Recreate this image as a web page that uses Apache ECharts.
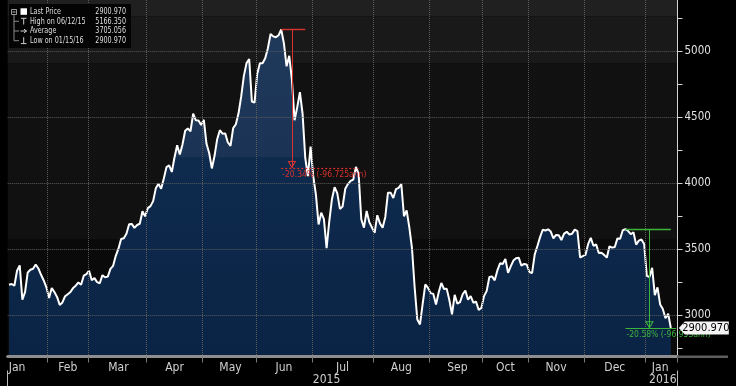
<!DOCTYPE html>
<html><head><meta charset="utf-8">
<script src="https://cdn.jsdelivr.net/npm/echarts@6/dist/echarts.min.js"></script>
<style>html,body{margin:0;padding:0;background:#000}#c{width:736px;height:386px}</style>
</head><body><div id="c"></div>
<script>
// ---------- data ----------
const monthNames = ['Jan','Feb','Mar','Apr','May','Jun','Jul','Aug','Sep','Oct','Nov','Dec','Jan'];
const monthYears = [2015,2015,2015,2015,2015,2015,2015,2015,2015,2015,2015,2015,2016];
const jan2015 = [3229,3235,3222,3336,3376,3116,3173,3323,3343,3351,3383,3353,3305,3262,3210];
const feb2015 = [3128,3204,3174,3137,3076,3095,3142,3158,3174,3204,3222,3247,3229,3298,3310];
const mar2015 = [3336,3263,3280,3249,3241,3302,3286,3291,3350,3373,3449,3503,3577,3582,3617,3688,3691,3661,3683,3692,3787,3748];
const apr2015 = [3811,3826,3864,3961,3995,3958,4035,4122,4135,4085,4195,4288,4218,4294,4398,4415,4394,4528,4477,4476,4442];
const may2015 = [4481,4299,4229,4112,4206,4334,4402,4376,4378,4309,4284,4418,4447,4530,4658,4814,4911,4942,4620,4612];
const jun2015 = [4829,4910,4910,4948,5024,5132,5114,5107,5122,5166.35,5062,4887,4967,4786,4478,4577,4691,4528,4193,4054,4277];
const jul2015 = [4054,3913,3687,3776,3728,3507,3710,3878,3970,3925,3805,3823,3958,3993,4017,4027,4124,4071,3726,3663,3789,3705,3664];
const aug2015 = [3623,3757,3695,3662,3744,3928,3928,3887,3955,3965,3994,3749,3794,3665,3508,3210,2965,2928,3084,3233,3206];
const sep2015 = [3166,3160,3080,3171,3243,3197,3200,3114,3005,3153,3086,3098,3157,3186,3116,3143,3093,3101,3039,3053];
const oct2015 = [3143,3183,3288,3293,3263,3338,3392,3387,3425,3320,3369,3413,3430,3435,3375,3387,3383];
const nov2015 = [3326,3317,3460,3523,3591,3647,3641,3650,3633,3581,3607,3605,3569,3618,3631,3611,3617,3648,3636,3436,3446];
const dec2015 = [3456,3537,3585,3525,3536,3471,3472,3456,3435,3521,3511,3516,3581,3579,3643,3651,3637,3613,3628,3534,3564,3573,3539];
const jan2016 = [3297,3288,3358,3150,3210,3080,3045,2975,3010,2900.97];
const monthValues = [jan2015,feb2015,mar2015,apr2015,may2015,jun2015,jul2015,aug2015,sep2015,oct2015,nov2015,dec2015,jan2016];
const yearLabels = ['2015','2016'];
const yLabelValues = [3000,3500,4000,4500,5000];
const yTickValues = [2750,3000,3250,3500,3750,4000,4250,4500,4750,5000,5250];
const legendRows = [['Last Price','2900.970'],['High on 06/12/15','5166.350'],['Average','3705.056'],['Low on 01/15/16','2900.970']];
const lastPriceText = '2900.970';
const redPct = -20.34, greenPct = -20.58;
const redText = '-20.34% (-96.725ann)';
const greenText = '-20.58% (-96.953ann)';

// ---------- build ----------
const F = "'Liberation Sans Narrow','DejaVu Sans Condensed','Arial Narrow',sans-serif";
const cats = [], values = [], monthStarts = [], labelMap = {}, yearMap = {};
monthValues.forEach((arr, m) => {
  const s = cats.length; monthStarts.push(s);
  arr.forEach((v, d) => { cats.push(monthYears[m] + '-' + monthNames[m] + '-' + (d + 1)); values.push(v); });
  const li = m === 0 ? s + 3 : s + Math.round((arr.length - 1) / 2);
  labelMap[li] = monthNames[m];
});
cats.push('pad-1', 'pad-2');
const tickSet = new Set(monthStarts.slice(1));
const y2016 = monthStarts[12];
yearMap[Math.round((y2016 - 1) / 2)] = yearLabels[0];
yearMap[Math.round((y2016 + cats.length - 1) / 2)] = yearLabels[1];

const yMin = 2685, yMax = 5390;
const lastIdx = values.length - 1;
let highIdx = 0; values.forEach((v, i) => { if (v > values[highIdx]) highIdx = i; });
const highVal = values[highIdx];
let gIdx = monthStarts[11]; for (let i = monthStarts[11]; i <= lastIdx; i++) if (values[i] > values[gIdx]) gIdx = i;
const gHigh = values[gIdx];
const redLow = highVal * (1 + redPct / 100);
const greenLow = gHigh * (1 + greenPct / 100);
const RED = '#d8332f', GREEN = '#3cb43c';

const gridLineStyle = { color: '#5c5c5c', type: 'dotted', width: 1 };
const hLines = yLabelValues.map(v => ({ yAxis: v }));

const redLines = [
  [{ coord: [cats[highIdx], highVal], lineStyle: { width: 1.4, color: RED } }, { coord: [cats[highIdx + 9], highVal], lineStyle: { width: 1.4, color: RED } }],
  [{ coord: [cats[highIdx + 4], highVal] }, { coord: [cats[highIdx + 4], redLow] }],
  [{ coord: [cats[highIdx], redLow], lineStyle: { type: [2, 2], width: 1.2 },
     label: { show: true, formatter: redText, position: 'insideStartBottom', color: RED, fontSize: 8.5, fontFamily: F, distance: [1, 2] } },
   { coord: [cats[highIdx + 29], redLow], lineStyle: { type: [2, 2], width: 1.2 } }]
];
const greenLines = [
  [{ coord: [cats[gIdx], gHigh], lineStyle: { width: 1.4, color: GREEN } }, { coord: [cats[lastIdx], gHigh], lineStyle: { width: 1.4, color: GREEN } }],
  [{ coord: [cats[gIdx + 9], gHigh] }, { coord: [cats[gIdx + 9], greenLow] }],
  [{ coord: [cats[gIdx], greenLow], lineStyle: { width: 1.2 },
     label: { show: true, formatter: greenText, position: 'insideStartBottom', color: GREEN, fontSize: 8.5, fontFamily: F, distance: [1, 2] } },
   { coord: [cats[cats.length - 1], greenLow], lineStyle: { width: 1.2 } }]
];

const rowY = [11.6, 21.3, 31.0, 40.7];
const G = [
  { type: 'rect', shape: { x: 9, y: 4, width: 122, height: 44 }, style: { fill: '#040404' } },
  { type: 'rect', shape: { x: 11.5, y: 9.5, width: 5, height: 5 }, style: { fill: 'none', stroke: '#9a9a9a', lineWidth: 1 } },
  { type: 'line', shape: { x1: 12.5, y1: 12, x2: 15.5, y2: 12 }, style: { stroke: '#c0c0c0', lineWidth: 1 } },
  { type: 'line', shape: { x1: 14, y1: 14.5, x2: 14, y2: rowY[3] }, style: { stroke: '#8a8a8a', lineWidth: 1 } },
  { type: 'line', shape: { x1: 14, y1: rowY[1], x2: 19, y2: rowY[1] }, style: { stroke: '#8a8a8a', lineWidth: 1 } },
  { type: 'line', shape: { x1: 14, y1: rowY[2], x2: 19, y2: rowY[2] }, style: { stroke: '#8a8a8a', lineWidth: 1 } },
  { type: 'line', shape: { x1: 14, y1: rowY[3], x2: 19, y2: rowY[3] }, style: { stroke: '#8a8a8a', lineWidth: 1 } },
  { type: 'rect', shape: { x: 20.5, y: 8.3, width: 6.5, height: 6.5 }, style: { fill: '#ffffff' } },
  { type: 'line', shape: { x1: 21, y1: 18.3, x2: 26.5, y2: 18.3 }, style: { stroke: '#d0d0d0', lineWidth: 1 } },
  { type: 'line', shape: { x1: 23.7, y1: 18.3, x2: 23.7, y2: 24.5 }, style: { stroke: '#d0d0d0', lineWidth: 1 } },
  { type: 'line', shape: { x1: 20.5, y1: rowY[2], x2: 26.5, y2: rowY[2] }, style: { stroke: '#d0d0d0', lineWidth: 1 } },
  { type: 'polyline', shape: { points: [[24, 29.2], [26.5, rowY[2]], [24, 32.8]] }, style: { stroke: '#d0d0d0', lineWidth: 1, fill: 'none' } },
  { type: 'line', shape: { x1: 23.7, y1: 37.2, x2: 23.7, y2: 43.6 }, style: { stroke: '#d0d0d0', lineWidth: 1 } },
  { type: 'line', shape: { x1: 21, y1: 43.6, x2: 26.5, y2: 43.6 }, style: { stroke: '#d0d0d0', lineWidth: 1 } },
  { type: 'rect', shape: { x: 677, y: 355.5, width: 51, height: 2.5 }, style: { fill: '#5e5e5e' } }
];
legendRows.forEach((r, i) => {
  G.push({ type: 'text', x: 30, y: rowY[i], scaleX: 0.84, style: { x: 0, y: 0, text: r[0], fill: '#dedede', font: '8.5px ' + F, align: 'left', verticalAlign: 'middle' } });
  G.push({ type: 'text', x: 126, y: rowY[i], scaleX: 0.84, style: { x: 0, y: 0, text: r[1], fill: '#dedede', font: '8.5px ' + F, align: 'right', verticalAlign: 'middle' } });
});
G.forEach(g => { g.z = 100; g.silent = true; });

function annotSeries(color, lines) {
  return {
    type: 'line', data: values, xAxisIndex: 0, yAxisIndex: 0, symbol: 'none', silent: true, z: 3,
    lineStyle: { opacity: 0, width: 0 }, emphasis: { disabled: true }, tooltip: { show: false },
    markLine: { silent: true, symbol: ['none', 'none'], label: { show: false }, emphasis: { disabled: true },
      lineStyle: { color: color, width: 1, type: 'solid', opacity: 1 }, data: lines }
  };
}

const chart = echarts.init(document.getElementById('c'), null, { renderer: 'canvas' });
chart.setOption({
  backgroundColor: '#000',
  animation: false,
  grid: { left: 7.7, right: 58.5, top: 0, bottom: 29.5, containLabel: false, outerBoundsMode: 'none' },
  xAxis: [{
    type: 'category', data: cats, boundaryGap: true, z: 4,
    axisLine: { show: true, lineStyle: { color: '#8e8e8e', width: 3 } },
    axisTick: { show: true, interval: (i) => tickSet.has(i), length: 6, lineStyle: { color: '#7a7a7a' } },
    axisLabel: { interval: (i) => labelMap[i] !== undefined, formatter: (v, i) => labelMap[i] || '', color: '#d0d0d0', fontSize: 12, fontFamily: F, margin: 5 },
    splitLine: { show: true, interval: (i) => tickSet.has(i), lineStyle: gridLineStyle }
  }, {
    type: 'category', data: cats, boundaryGap: true, position: 'bottom', offset: 14,
    axisLine: { show: false },
    axisTick: { show: true, interval: (i) => i === y2016, length: 16, lineStyle: { color: '#bdbdbd' } },
    axisLabel: { interval: (i) => yearMap[i] !== undefined, formatter: (v, i) => yearMap[i] || '', color: '#d0d0d0', fontSize: 12, fontFamily: F, margin: 3 },
    splitLine: { show: false }
  }],
  yAxis: {
    type: 'value', position: 'right', min: yMin, max: yMax, z: 4,
    axisLine: { show: true, lineStyle: { color: '#d4d4d4', width: 1 } },
    axisTick: { show: true, customValues: yTickValues, length: 5, lineStyle: { color: '#d4d4d4' } },
    axisLabel: { customValues: yLabelValues, formatter: (v) => String(Math.round(v)), color: '#e2e2e2', fontSize: 11.5, fontFamily: F, margin: 7 },
    splitLine: { show: false }
  },
  graphic: G,
  series: [{
    type: 'line', data: values, xAxisIndex: 0, yAxisIndex: 0, symbol: 'none', z: 2,
    lineStyle: { color: '#ffffff', width: 2 },
    areaStyle: { origin: 'start', opacity: 1, color: { type: 'linear', x: 0, y: 0, x2: 0, y2: 386, global: true,
      colorStops: [{ offset: 0, color: '#213b5c' }, { offset: 0.405, color: '#1b3455' }, { offset: 0.409, color: '#0e2a4d' }, { offset: 1, color: '#0a2344' }] } },
    markArea: { silent: true, data: [
      [{ yAxis: 5266, itemStyle: { color: '#202020' } }, { yAxis: yMax }],
      [{ yAxis: 4909, itemStyle: { color: '#191919' } }, { yAxis: 5266 }],
      [{ yAxis: 3570, itemStyle: { color: '#111111' } }, { yAxis: 4909 }],
      [{ yAxis: yMin, itemStyle: { color: '#0a0a0a' } }, { yAxis: 3570 }]
    ] },
    markLine: { silent: true, symbol: ['none', 'none'], label: { show: false }, emphasis: { disabled: true },
      lineStyle: gridLineStyle, data: hLines },
    markPoint: { silent: true, z: 10, label: { show: false }, data: [
      { coord: [cats[highIdx + 4], redLow], symbol: 'triangle', symbolRotate: 180, symbolSize: [7, 6], symbolOffset: [0, -3.5],
        itemStyle: { color: 'rgba(0,0,0,0)', borderColor: RED, borderWidth: 1 } },
      { coord: [cats[gIdx + 9], greenLow], symbol: 'triangle', symbolRotate: 180, symbolSize: [7, 6], symbolOffset: [0, -3.5],
        itemStyle: { color: 'rgba(0,0,0,0)', borderColor: GREEN, borderWidth: 1 } },
      { coord: [cats[lastIdx], values[lastIdx]], symbol: 'path://M0,6 L6,0 L50,0 L50,12 L6,12 Z', symbolSize: [50, 13], symbolOffset: [33, 0],
        itemStyle: { color: '#f4f4f4' },
        label: { show: true, position: 'inside', formatter: lastPriceText, color: '#000', fontSize: 11, fontFamily: F, offset: [2, 0.5] } }
    ] }
  }, annotSeries(RED, redLines), annotSeries(GREEN, greenLines)]
});
</script></body></html>
